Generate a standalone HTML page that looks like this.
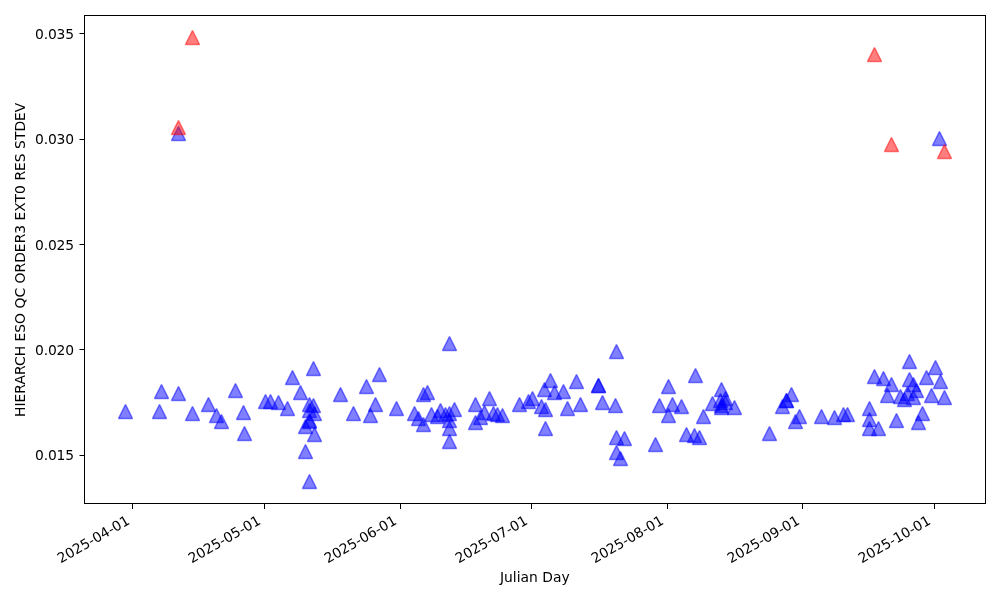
<!DOCTYPE html>
<html lang="en">
<head>
<meta charset="utf-8">
<title>HIERARCH ESO QC ORDER3 EXT0 RES STDEV</title>
<style>
html,body{margin:0;padding:0;background:#fff;}
body{width:1000px;height:600px;overflow:hidden;}
svg{display:block;}
text{font-family:"DejaVu Sans","Liberation Sans",sans-serif;font-size:13.889px;fill:#000;}
.b polygon{fill:#0000ff;fill-opacity:.5;stroke:#0000ff;stroke-opacity:.5;stroke-width:1.5;stroke-linejoin:bevel;}
.r polygon{fill:#ff0000;fill-opacity:.5;stroke:#ff0000;stroke-opacity:.5;stroke-width:1.5;stroke-linejoin:bevel;}
</style>
</head>
<body>
<svg width="1000" height="600" viewBox="0 0 1000 600">
<rect x="0" y="0" width="1000" height="600" fill="#ffffff"/>
<g class="b">
<polygon points="125.50,404.50 118.50,418.50 132.50,418.50"/>
<polygon points="161.50,384.50 154.50,398.50 168.50,398.50"/>
<polygon points="159.50,404.50 152.50,418.50 166.50,418.50"/>
<polygon points="178.50,386.50 171.50,400.50 185.50,400.50"/>
<polygon points="178.50,126.50 171.50,140.50 185.50,140.50"/>
<polygon points="192.50,406.50 185.50,420.50 199.50,420.50"/>
<polygon points="208.50,397.50 201.50,411.50 215.50,411.50"/>
<polygon points="216.50,408.50 209.50,422.50 223.50,422.50"/>
<polygon points="221.50,414.50 214.50,428.50 228.50,428.50"/>
<polygon points="235.50,383.50 228.50,397.50 242.50,397.50"/>
<polygon points="243.50,405.50 236.50,419.50 250.50,419.50"/>
<polygon points="244.50,426.50 237.50,440.50 251.50,440.50"/>
<polygon points="265.50,394.50 258.50,408.50 272.50,408.50"/>
<polygon points="270.50,394.50 263.50,408.50 277.50,408.50"/>
<polygon points="278.50,395.50 271.50,409.50 285.50,409.50"/>
<polygon points="287.50,401.50 280.50,415.50 294.50,415.50"/>
<polygon points="292.50,370.50 285.50,384.50 299.50,384.50"/>
<polygon points="300.50,385.50 293.50,399.50 307.50,399.50"/>
<polygon points="313.50,361.50 306.50,375.50 320.50,375.50"/>
<polygon points="309.50,397.50 302.50,411.50 316.50,411.50"/>
<polygon points="313.50,398.50 306.50,412.50 320.50,412.50"/>
<polygon points="309.50,403.50 302.50,417.50 316.50,417.50"/>
<polygon points="314.50,406.50 307.50,420.50 321.50,420.50"/>
<polygon points="309.50,413.50 302.50,427.50 316.50,427.50"/>
<polygon points="309.50,414.50 302.50,428.50 316.50,428.50"/>
<polygon points="305.50,419.50 298.50,433.50 312.50,433.50"/>
<polygon points="314.50,427.50 307.50,441.50 321.50,441.50"/>
<polygon points="305.50,444.50 298.50,458.50 312.50,458.50"/>
<polygon points="309.50,474.50 302.50,488.50 316.50,488.50"/>
<polygon points="340.50,387.50 333.50,401.50 347.50,401.50"/>
<polygon points="353.50,406.50 346.50,420.50 360.50,420.50"/>
<polygon points="366.50,379.50 359.50,393.50 373.50,393.50"/>
<polygon points="370.50,408.50 363.50,422.50 377.50,422.50"/>
<polygon points="375.50,397.50 368.50,411.50 382.50,411.50"/>
<polygon points="379.50,367.50 372.50,381.50 386.50,381.50"/>
<polygon points="396.50,401.50 389.50,415.50 403.50,415.50"/>
<polygon points="414.50,406.50 407.50,420.50 421.50,420.50"/>
<polygon points="418.50,411.50 411.50,425.50 425.50,425.50"/>
<polygon points="423.50,417.50 416.50,431.50 430.50,431.50"/>
<polygon points="423.50,387.50 416.50,401.50 430.50,401.50"/>
<polygon points="427.50,385.50 420.50,399.50 434.50,399.50"/>
<polygon points="431.50,407.50 424.50,421.50 438.50,421.50"/>
<polygon points="437.50,409.50 430.50,423.50 444.50,423.50"/>
<polygon points="440.50,403.50 433.50,417.50 447.50,417.50"/>
<polygon points="445.50,407.50 438.50,421.50 452.50,421.50"/>
<polygon points="449.50,406.50 442.50,420.50 456.50,420.50"/>
<polygon points="454.50,402.50 447.50,416.50 461.50,416.50"/>
<polygon points="449.50,413.50 442.50,427.50 456.50,427.50"/>
<polygon points="449.50,421.50 442.50,435.50 456.50,435.50"/>
<polygon points="449.50,434.50 442.50,448.50 456.50,448.50"/>
<polygon points="449.50,336.50 442.50,350.50 456.50,350.50"/>
<polygon points="475.50,397.50 468.50,411.50 482.50,411.50"/>
<polygon points="475.50,415.50 468.50,429.50 482.50,429.50"/>
<polygon points="480.50,410.50 473.50,424.50 487.50,424.50"/>
<polygon points="484.50,405.50 477.50,419.50 491.50,419.50"/>
<polygon points="489.50,391.50 482.50,405.50 496.50,405.50"/>
<polygon points="493.50,406.50 486.50,420.50 500.50,420.50"/>
<polygon points="497.50,407.50 490.50,421.50 504.50,421.50"/>
<polygon points="502.50,408.50 495.50,422.50 509.50,422.50"/>
<polygon points="519.50,397.50 512.50,411.50 526.50,411.50"/>
<polygon points="528.50,394.50 521.50,408.50 535.50,408.50"/>
<polygon points="532.50,391.50 525.50,405.50 539.50,405.50"/>
<polygon points="541.50,399.50 534.50,413.50 548.50,413.50"/>
<polygon points="545.50,402.50 538.50,416.50 552.50,416.50"/>
<polygon points="544.50,382.50 537.50,396.50 551.50,396.50"/>
<polygon points="550.50,373.50 543.50,387.50 557.50,387.50"/>
<polygon points="554.50,385.50 547.50,399.50 561.50,399.50"/>
<polygon points="563.50,384.50 556.50,398.50 570.50,398.50"/>
<polygon points="567.50,401.50 560.50,415.50 574.50,415.50"/>
<polygon points="545.50,421.50 538.50,435.50 552.50,435.50"/>
<polygon points="576.50,374.50 569.50,388.50 583.50,388.50"/>
<polygon points="580.50,397.50 573.50,411.50 587.50,411.50"/>
<polygon points="598.50,378.50 591.50,392.50 605.50,392.50"/>
<polygon points="598.50,378.50 591.50,392.50 605.50,392.50"/>
<polygon points="602.50,395.50 595.50,409.50 609.50,409.50"/>
<polygon points="615.50,398.50 608.50,412.50 622.50,412.50"/>
<polygon points="616.50,344.50 609.50,358.50 623.50,358.50"/>
<polygon points="616.50,430.50 609.50,444.50 623.50,444.50"/>
<polygon points="624.50,431.50 617.50,445.50 631.50,445.50"/>
<polygon points="616.50,445.50 609.50,459.50 623.50,459.50"/>
<polygon points="620.50,451.50 613.50,465.50 627.50,465.50"/>
<polygon points="655.50,437.50 648.50,451.50 662.50,451.50"/>
<polygon points="659.50,398.50 652.50,412.50 666.50,412.50"/>
<polygon points="668.50,379.50 661.50,393.50 675.50,393.50"/>
<polygon points="668.50,408.50 661.50,422.50 675.50,422.50"/>
<polygon points="672.50,397.50 665.50,411.50 679.50,411.50"/>
<polygon points="681.50,399.50 674.50,413.50 688.50,413.50"/>
<polygon points="686.50,427.50 679.50,441.50 693.50,441.50"/>
<polygon points="694.50,428.50 687.50,442.50 701.50,442.50"/>
<polygon points="699.50,430.50 692.50,444.50 706.50,444.50"/>
<polygon points="695.50,368.50 688.50,382.50 702.50,382.50"/>
<polygon points="703.50,409.50 696.50,423.50 710.50,423.50"/>
<polygon points="712.50,396.50 705.50,410.50 719.50,410.50"/>
<polygon points="721.50,382.50 714.50,396.50 728.50,396.50"/>
<polygon points="725.50,391.50 718.50,405.50 732.50,405.50"/>
<polygon points="720.50,393.50 713.50,407.50 727.50,407.50"/>
<polygon points="725.50,395.50 718.50,409.50 732.50,409.50"/>
<polygon points="721.50,398.50 714.50,412.50 728.50,412.50"/>
<polygon points="721.50,400.50 714.50,414.50 728.50,414.50"/>
<polygon points="734.50,400.50 727.50,414.50 741.50,414.50"/>
<polygon points="769.50,426.50 762.50,440.50 776.50,440.50"/>
<polygon points="782.50,399.50 775.50,413.50 789.50,413.50"/>
<polygon points="786.50,393.50 779.50,407.50 793.50,407.50"/>
<polygon points="786.50,393.50 779.50,407.50 793.50,407.50"/>
<polygon points="791.50,387.50 784.50,401.50 798.50,401.50"/>
<polygon points="795.50,414.50 788.50,428.50 802.50,428.50"/>
<polygon points="799.50,409.50 792.50,423.50 806.50,423.50"/>
<polygon points="821.50,409.50 814.50,423.50 828.50,423.50"/>
<polygon points="834.50,410.50 827.50,424.50 841.50,424.50"/>
<polygon points="843.50,407.50 836.50,421.50 850.50,421.50"/>
<polygon points="847.50,407.50 840.50,421.50 854.50,421.50"/>
<polygon points="869.50,401.50 862.50,415.50 876.50,415.50"/>
<polygon points="869.50,412.50 862.50,426.50 876.50,426.50"/>
<polygon points="869.50,421.50 862.50,435.50 876.50,435.50"/>
<polygon points="878.50,421.50 871.50,435.50 885.50,435.50"/>
<polygon points="874.50,369.50 867.50,383.50 881.50,383.50"/>
<polygon points="883.50,371.50 876.50,385.50 890.50,385.50"/>
<polygon points="891.50,377.50 884.50,391.50 898.50,391.50"/>
<polygon points="887.50,388.50 880.50,402.50 894.50,402.50"/>
<polygon points="896.50,413.50 889.50,427.50 903.50,427.50"/>
<polygon points="900.50,389.50 893.50,403.50 907.50,403.50"/>
<polygon points="904.50,392.50 897.50,406.50 911.50,406.50"/>
<polygon points="909.50,354.50 902.50,368.50 916.50,368.50"/>
<polygon points="909.50,372.50 902.50,386.50 916.50,386.50"/>
<polygon points="913.50,377.50 906.50,391.50 920.50,391.50"/>
<polygon points="916.50,383.50 909.50,397.50 923.50,397.50"/>
<polygon points="907.50,386.50 900.50,400.50 914.50,400.50"/>
<polygon points="913.50,390.50 906.50,404.50 920.50,404.50"/>
<polygon points="918.50,415.50 911.50,429.50 925.50,429.50"/>
<polygon points="922.50,406.50 915.50,420.50 929.50,420.50"/>
<polygon points="926.50,370.50 919.50,384.50 933.50,384.50"/>
<polygon points="931.50,388.50 924.50,402.50 938.50,402.50"/>
<polygon points="935.50,360.50 928.50,374.50 942.50,374.50"/>
<polygon points="940.50,374.50 933.50,388.50 947.50,388.50"/>
<polygon points="944.50,390.50 937.50,404.50 951.50,404.50"/>
<polygon points="939.50,131.50 932.50,145.50 946.50,145.50"/>
</g>
<g class="r">
<polygon points="178.50,120.50 171.50,134.50 185.50,134.50"/>
<polygon points="192.50,30.50 185.50,44.50 199.50,44.50"/>
<polygon points="874.50,47.50 867.50,61.50 881.50,61.50"/>
<polygon points="891.50,137.50 884.50,151.50 898.50,151.50"/>
<polygon points="944.50,144.50 937.50,158.50 951.50,158.50"/>
</g>
<g fill="#000" shape-rendering="crispEdges">
<rect x="132" y="504" width="1" height="5"/>
<rect x="264" y="504" width="1" height="5"/>
<rect x="400" y="504" width="1" height="5"/>
<rect x="531" y="504" width="1" height="5"/>
<rect x="667" y="504" width="1" height="5"/>
<rect x="802" y="504" width="1" height="5"/>
<rect x="934" y="504" width="1" height="5"/>
<rect x="80" y="33" width="4" height="1"/>
<rect x="80" y="139" width="4" height="1"/>
<rect x="80" y="244" width="4" height="1"/>
<rect x="80" y="349" width="4" height="1"/>
<rect x="80" y="455" width="4" height="1"/>
</g>
<g fill="#000" fill-opacity="0.5">
<rect x="79" y="33" width="1" height="1"/>
<rect x="79" y="139" width="1" height="1"/>
<rect x="79" y="244" width="1" height="1"/>
<rect x="79" y="349" width="1" height="1"/>
<rect x="79" y="455" width="1" height="1"/>
</g>
<rect x="84.5" y="15.5" width="901" height="488" fill="none" stroke="#000" stroke-width="1" shape-rendering="crispEdges"/>
<text transform="translate(130.60,523.30) rotate(-30)" text-anchor="end">2025-04-01</text>
<text transform="translate(261.60,523.30) rotate(-30)" text-anchor="end">2025-05-01</text>
<text transform="translate(397.60,523.30) rotate(-30)" text-anchor="end">2025-06-01</text>
<text transform="translate(528.60,523.30) rotate(-30)" text-anchor="end">2025-07-01</text>
<text transform="translate(664.60,523.30) rotate(-30)" text-anchor="end">2025-08-01</text>
<text transform="translate(800.60,523.30) rotate(-30)" text-anchor="end">2025-09-01</text>
<text transform="translate(931.60,523.30) rotate(-30)" text-anchor="end">2025-10-01</text>
<text x="73.80" y="38.90" text-anchor="end" letter-spacing="-0.2">0.035</text>
<text x="73.80" y="143.90" text-anchor="end" letter-spacing="-0.2">0.030</text>
<text x="73.80" y="249.90" text-anchor="end" letter-spacing="-0.2">0.025</text>
<text x="73.80" y="354.90" text-anchor="end" letter-spacing="-0.2">0.020</text>
<text x="73.80" y="459.90" text-anchor="end" letter-spacing="-0.2">0.015</text>
<text x="534.75" y="582.00" text-anchor="middle">Julian Day</text>
<text transform="translate(25.00,259.80) rotate(-90)" text-anchor="middle" letter-spacing="0.016">HIERARCH ESO QC ORDER3 EXT0 RES STDEV</text>
</svg>
</body>
</html>
